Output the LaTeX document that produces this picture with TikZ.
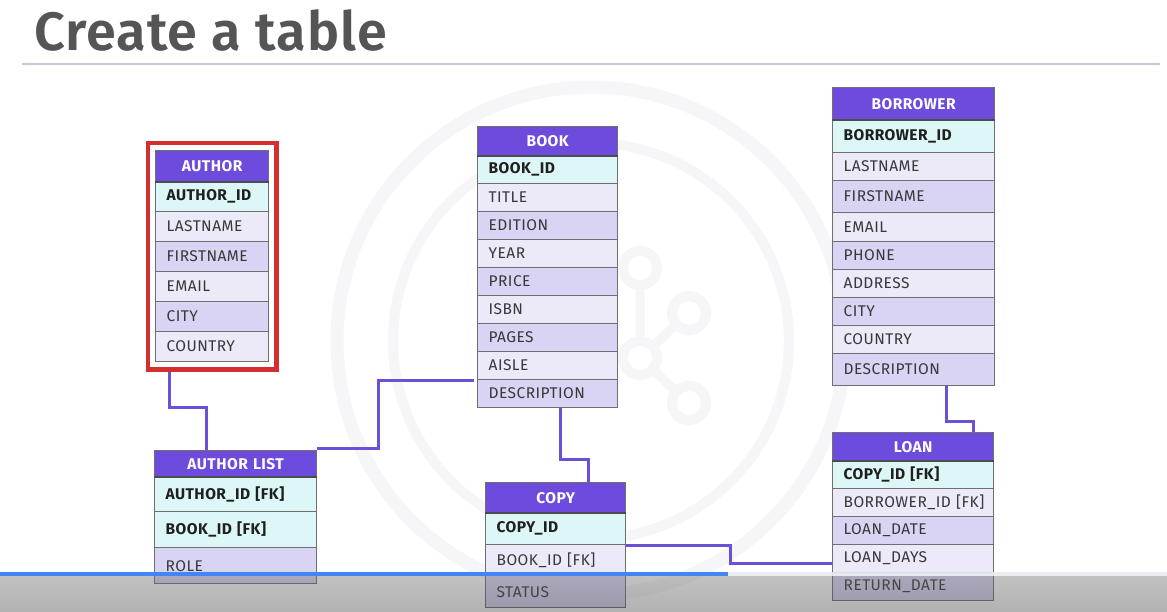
\documentclass[tikz,border=0pt]{standalone}
\usepackage{fontspec}
\setmainfont{Fira Sans}[LetterSpace=3]
\newfontfamily\titlefont{Fira Sans SemiBold}[LetterSpace=2]
\usetikzlibrary{fit,calc}

\definecolor{hdr}{HTML}{6C4BDD}
\definecolor{keyc}{HTML}{DDF6F6}
\definecolor{rowa}{HTML}{ECE9F8}
\definecolor{rowb}{HTML}{D9D4F4}
\definecolor{gridc}{HTML}{6F6F6F}
\definecolor{linkc}{HTML}{6C50D8}
\definecolor{titlec}{HTML}{555555}
\definecolor{rulec}{HTML}{C9C6DD}
\definecolor{markc}{HTML}{F6F6F8}
\definecolor{selred}{HTML}{D42F2F}
\definecolor{progress}{HTML}{4285F4}
\definecolor{trackc}{HTML}{E9ECF0}

\tikzset{
  cell/.style={draw=gridc, line width=1.3pt, anchor=north west,
    inner xsep=11pt, inner ysep=0pt, align=left,
    font=\fontsize{15.5}{17}\selectfont, text=black!78},
  head/.style={fill=hdr, text=white, align=center,
    font=\fontsize{15.5}{17}\selectfont\bfseries},
  keyrow/.style={fill=keyc, text=black!88,
    font=\fontsize{15.5}{17}\selectfont\bfseries},
  lite/.style={fill=rowa},
  dark/.style={fill=rowb},
  conn/.style={draw=linkc, line width=3pt},
  headrule/.style={draw=black!70, line width=2.2pt},
}

% one table cell: name, x, y (top), width, height, style, text
\newcommand\tcell[7]{%
  \pgfmathsetmacro\cellw{#4-22}%
  \node[cell,#6,minimum width=#4pt,minimum height=#5pt,text width=\cellw pt] (#1) at (#2,#3) {\mbox{#7}};}

\begin{document}
\begin{tikzpicture}[x=1pt,y=-1pt]
\useasboundingbox (0,0) rectangle (1167,611);
\fill[white] (0,0) rectangle (1167,611);

% faint background emblem
\draw[markc, line width=13pt] (591,341) circle[radius=254pt];
\draw[markc, line width=10pt] (591,341) circle[radius=198pt];
\draw[markc, line width=9pt] (640,358) -- (689,313) (640,358) -- (689,403) (640,268) -- (640,358);
\foreach \p in {(640,268),(689,313),(640,358),(689,403)}
  \draw[markc, line width=10pt, fill=white] \p circle[radius=17pt];

% title
\node[anchor=base west, inner sep=0, text=titlec,
      font=\fontsize{54}{60}\titlefont] (title) at (34,50) {Create a table};
\draw[rulec, line width=1.2pt] (22,64) -- (1160,64);

% AUTHOR
\tcell{author-h}{155}{150}{113}{31}{head}{AUTHOR}
\tcell{author-1}{155}{181}{113}{30}{keyrow}{AUTHOR\_ID}
\tcell{author-2}{155}{211}{113}{30}{lite}{LASTNAME}
\tcell{author-3}{155}{241}{113}{30}{dark}{FIRSTNAME}
\tcell{author-4}{155}{271}{113}{30}{lite}{EMAIL}
\tcell{author-5}{155}{301}{113}{30}{dark}{CITY}
\tcell{author-6}{155}{331}{113}{30}{lite}{COUNTRY}
\draw[headrule] (author-h.south west) -- (author-h.south east);
\node[draw=selred, line width=4.5pt, inner sep=7pt, fit=(author-h)(author-6)] (sel) {};

% BOOK
\tcell{book-h}{477}{126}{140}{29}{head}{BOOK}
\tcell{book-1}{477}{155}{140}{28}{keyrow}{BOOK\_ID}
\tcell{book-2}{477}{183}{140}{28}{lite}{TITLE}
\tcell{book-3}{477}{211}{140}{28}{dark}{EDITION}
\tcell{book-4}{477}{239}{140}{28}{lite}{YEAR}
\tcell{book-5}{477}{267}{140}{28}{dark}{PRICE}
\tcell{book-6}{477}{295}{140}{28}{lite}{ISBN}
\tcell{book-7}{477}{323}{140}{28}{dark}{PAGES}
\tcell{book-8}{477}{351}{140}{28}{lite}{AISLE}
\tcell{book-9}{477}{379}{140}{28}{dark}{DESCRIPTION}
\draw[headrule] (book-h.south west) -- (book-h.south east);

% BORROWER
\tcell{bor-h}{832}{87}{162}{32}{head}{BORROWER}
\tcell{bor-1}{832}{119}{162}{33}{keyrow}{BORROWER\_ID}
\tcell{bor-2}{832}{152}{162}{28}{lite}{LASTNAME}
\tcell{bor-3}{832}{180}{162}{32}{dark}{FIRSTNAME}
\tcell{bor-4}{832}{212}{162}{29}{lite}{EMAIL}
\tcell{bor-5}{832}{241}{162}{28}{dark}{PHONE}
\tcell{bor-6}{832}{269}{162}{28}{lite}{ADDRESS}
\tcell{bor-7}{832}{297}{162}{28}{dark}{CITY}
\tcell{bor-8}{832}{325}{162}{28}{lite}{COUNTRY}
\tcell{bor-9}{832}{353}{162}{32}{dark}{DESCRIPTION}
\draw[headrule] (bor-h.south west) -- (bor-h.south east);

% AUTHOR LIST
\tcell{al-h}{154}{450}{162}{26}{head}{AUTHOR LIST}
\tcell{al-1}{154}{476}{162}{35}{keyrow}{AUTHOR\_ID [FK]}
\tcell{al-2}{154}{511}{162}{36}{keyrow}{BOOK\_ID [FK]}
\tcell{al-3}{154}{547}{162}{36}{dark}{ROLE}
\draw[headrule] (al-h.south west) -- (al-h.south east);

% COPY
\tcell{copy-h}{485}{482}{140}{30}{head}{COPY}
\tcell{copy-1}{485}{512}{140}{32}{keyrow}{COPY\_ID}
\tcell{copy-2}{485}{544}{140}{31}{lite}{BOOK\_ID [FK]}
\tcell{copy-3}{485}{575}{140}{32}{dark}{STATUS}
\draw[headrule] (copy-h.south west) -- (copy-h.south east);

% LOAN
\tcell{loan-h}{832}{432}{161}{28}{head}{LOAN}
\tcell{loan-1}{832}{460}{161}{28}{keyrow}{COPY\_ID [FK]}
\tcell{loan-2}{832}{488}{161}{28}{lite}{BORROWER\_ID [FK]}
\tcell{loan-3}{832}{516}{161}{28}{dark}{LOAN\_DATE}
\tcell{loan-4}{832}{544}{161}{28}{lite}{LOAN\_DAYS}
\tcell{loan-5}{832}{572}{161}{28}{dark}{RETURN\_DATE}
\draw[headrule] (loan-h.south west) -- (loan-h.south east);

% relationships
\draw[conn] ([xshift=23.5pt]sel.south west) -- ++(0,36) -| ([xshift=52pt]al-h.north west);
\draw[conn] ([yshift=1.5pt]al-h.north east) -- ++(61,0) |- ([xshift=-3pt]book-8.south west);
\draw[conn] ([xshift=83pt]book-9.south west) -- ++(0,51) -| ([xshift=103pt]copy-h.north west);
\draw[conn] (copy-1.south east) -- ++(104,0) |- ([yshift=-5pt]loan-4.west);
\draw[conn] ([xshift=114pt]bor-9.south west) -- ++(0,35) -| ([xshift=141pt]loan-h.north west);

% player controls strip along the bottom
\shade[top color=black!60, bottom color=black!75, opacity=0.4] (0,576) rectangle (1167,611);
\fill[trackc, opacity=0.9] (728,572) rectangle (1167,576);
\fill[progress] (0,572) rectangle (728,576);
\end{tikzpicture}
\end{document}
